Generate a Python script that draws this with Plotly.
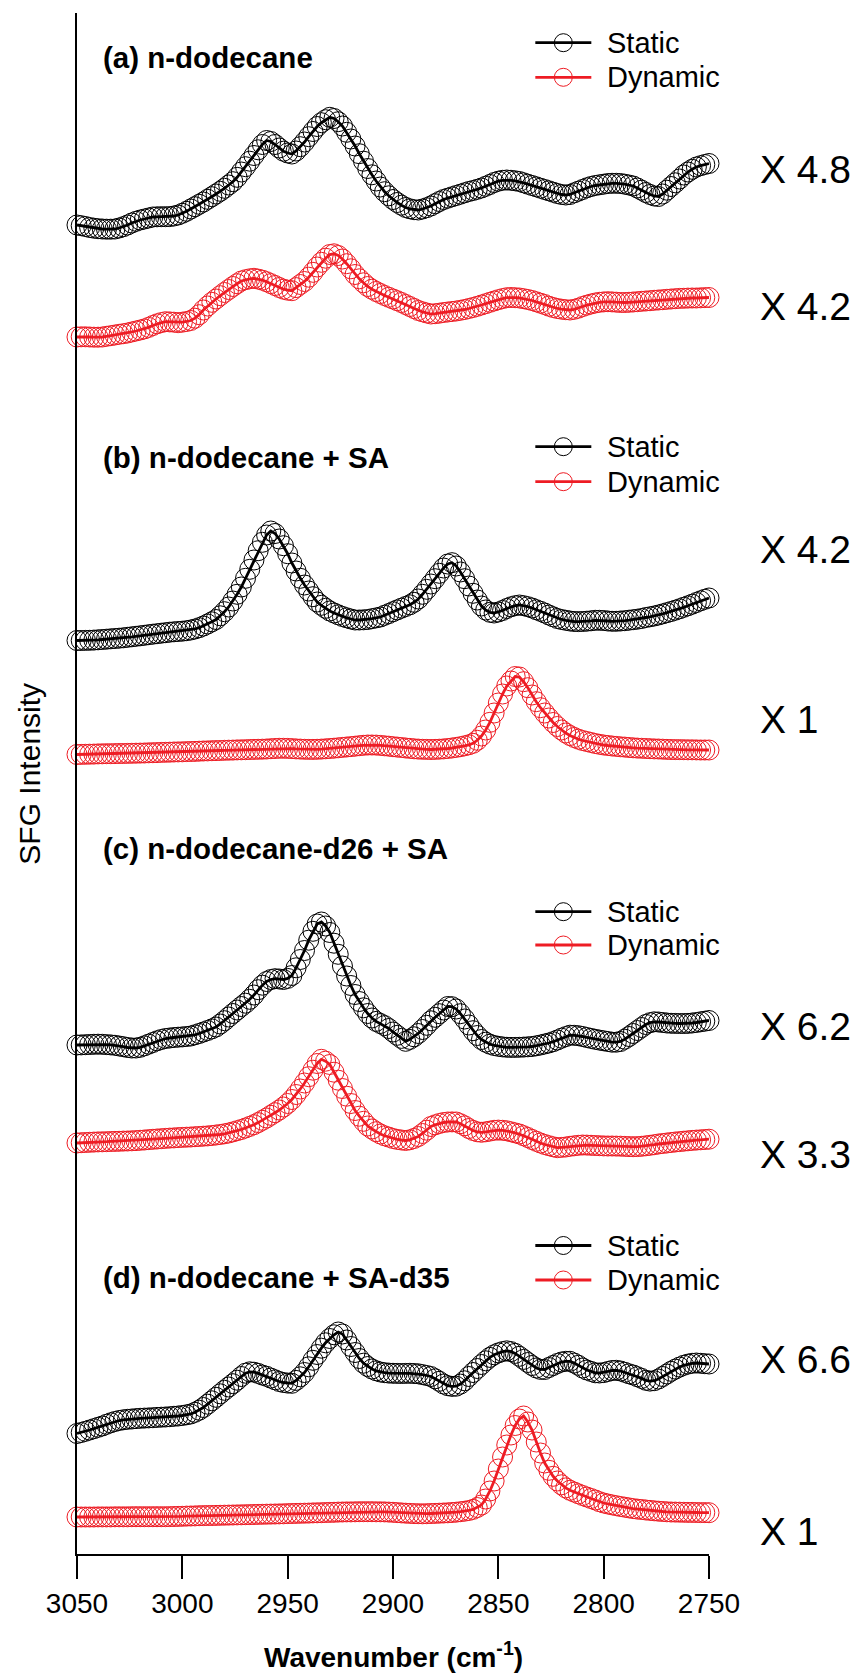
import plotly.graph_objects as go

# SFG spectra in the CH stretching region, sampled every 2 cm^-1 from 3050 down to 2750
wavenumber = list(range(3050, 2749, -2))

# (a) n-dodecane
a_static = [5, 4.3, 3.5, 2.5, 1.8, 1.3, 1, 0.8, 0.8, 1,
            2, 3.3, 5, 7, 8.7, 10, 11, 12, 13, 13.2,
            13.3, 13.3, 13.4, 14, 15, 16.7, 18.7, 21, 23.3, 25.7,
            28, 30.7, 33.3, 36, 38.7, 41.7, 45, 48.3, 52.7, 58,
            63.3, 68.8, 74.5, 80.2, 85.5, 89.5, 88.5, 85.5, 82, 78.8,
            77, 76, 79, 83.3, 88, 93.3, 98.5, 103.5, 107.3, 110.3,
            112.7, 111.5, 108.3, 104, 97.7, 91, 84, 76.3, 68.8, 61.5,
            55.2, 49, 43, 38.3, 34.2, 30.5, 27.5, 24.8, 22.5, 21.2,
            20.3, 20, 21, 22.3, 24, 26.3, 28.5, 30.5, 31.8, 33.2,
            34.5, 35.8, 37.2, 38.5, 39.5, 40.7, 42, 43.7, 45.5, 47.5,
            48.8, 49.7, 50, 49.7, 49.2, 48.5, 47.2, 45.8, 44.5, 43.2,
            41.8, 40.5, 39.2, 37.8, 36.5, 35.5, 35, 35.5, 37.2, 38.8,
            40.5, 42.2, 43.5, 44.5, 45.2, 45.8, 46.5, 46.7, 46.7, 46.5,
            45.8, 45, 44, 42, 39.8, 37.5, 35.5, 34, 33.5, 36,
            39.8, 43.5, 47.2, 51, 55, 58, 60.7, 63, 64.3, 65.5,
            66.5]
a_dynamic = [3, 3.2, 3.2, 3, 2.8, 2.8, 3, 3.7, 4.3, 5, 5.7, 6.3, 7, 8, 9,
             10, 11.1, 12.6, 14.5, 16.2, 17.4, 18.3, 18.1, 17.8, 17.3, 17.8, 18.5, 19.5, 21.8, 25.3,
             30, 34, 37.7, 41, 44.3, 47.5, 50.5, 53.5, 56.3, 59, 60.3, 61.2, 61.7, 60.9, 59.8,
             58.3, 56.4, 54.5, 52.5, 50.8, 49.8, 49.3, 52.4, 55.5, 58.5, 62.8, 67.7, 73, 77.7, 81.8,
             85.5, 86.2, 84.5, 81, 76.3, 71.2, 65.5, 61.2, 57.2, 53.5, 50.8, 48.5, 46.5, 44.5, 42.7,
             41, 39.3, 37.5, 35.5, 33.5, 31.5, 29.5, 28.2, 27, 26, 26.3, 26.8, 27.5, 28, 28.5,
             29, 29.7, 30.5, 31.5, 32.5, 33.7, 35, 36.3, 37.7, 39, 40.3, 41.4, 42.3, 42.5, 42.3,
             42, 41.3, 40.5, 39.5, 38.2, 36.8, 35.5, 33.8, 32.5, 31.5, 30.8, 30.3, 30, 30.7, 31.8,
             33.5, 34.8, 36, 37, 37.7, 38.1, 38.3, 38.1, 37.8, 37.5, 37.5, 37.7, 38, 38.3, 38.7,
             39, 39.3, 39.7, 40, 40.3, 40.7, 41, 41.3, 41.6, 41.7, 41.9, 42, 42, 42.2, 42.4,
             42.5]

# (b) n-dodecane + SA
b_static = [4.5, 4.5, 4.6, 4.7, 4.9, 5.2, 5.5, 5.8, 6.2, 6.5, 6.8, 7.2, 7.7, 8.2, 8.7,
            9.2, 9.7, 10.3, 10.8, 11.3, 11.8, 12.3, 12.8, 13.2, 13.5, 13.8, 14.3, 15, 16, 17.3,
            19, 21, 23.2, 25.5, 29.2, 33.3, 38, 44, 50.7, 58, 66.7, 75.7, 85, 94.3, 102.7,
            110, 114, 111.5, 106, 99.3, 91.3, 82, 74, 66.7, 60, 54, 48.3, 43, 39.7, 36.7,
            34, 32, 30.2, 28.5, 27.2, 26, 25, 25, 25.2, 25.5, 26.3, 27.1, 28, 29.7, 31.4,
            33.3, 35.1, 36.8, 38.5, 40.2, 42.7, 46, 50.7, 55.7, 61, 66.3, 71.7, 77, 81, 82.3,
            79, 73, 66.3, 59, 51.7, 45, 39, 35, 32.7, 32, 33, 34.5, 36.5, 38.2, 39.3,
            40, 39.3, 38.3, 37, 35.3, 33.7, 32, 30, 28.2, 26.5, 25.5, 24.7, 24, 23.5, 23.4,
            23.5, 23.8, 24.2, 24.7, 24.7, 24.5, 24, 23.7, 23.7, 24, 24.3, 24.8, 25.3, 25.8, 26.5,
            27.5, 28.2, 29, 30, 31.1, 32.3, 33.5, 34.8, 36.2, 37.7, 39.2, 40.8, 42.5, 44.2, 45.7,
            47]
b_dynamic = [0.5, 0.6, 0.7, 0.8, 0.9, 1.1, 1.2, 1.3, 1.3, 1.4, 1.5, 1.5, 1.6, 1.7, 1.8,
             1.9, 2, 2.2, 2.3, 2.4, 2.6, 2.7, 2.8, 3, 3.1, 3.2, 3.4, 3.5, 3.6, 3.8,
             4, 4.1, 4.3, 4.4, 4.5, 4.7, 4.8, 4.9, 5.1, 5.2, 5.3, 5.5, 5.6, 5.7, 5.8,
             6, 6.3, 6.5, 6.7, 6.7, 6.6, 6.4, 6.1, 5.9, 5.7, 5.6, 5.6, 5.7, 5.9, 6.2,
             6.5, 6.8, 7.2, 7.6, 8, 8.4, 8.8, 9.3, 9.7, 10, 10, 9.9, 9.6, 9.2, 8.8,
             8.3, 7.9, 7.5, 7, 6.6, 6.2, 5.9, 5.7, 5.6, 5.5, 5.6, 5.8, 6.1, 6.5, 7,
             7.6, 8.3, 9.2, 10.2, 11.7, 14.7, 19, 25, 32.7, 42, 52, 61, 69, 74, 78.5,
             78, 73.3, 67.3, 60, 53.3, 47.3, 42, 37, 32.5, 28.5, 25, 22, 19.5, 17.5, 15.8,
             14.5, 13.5, 12.5, 11.5, 10.7, 10, 9.5, 9, 8.6, 8.2, 7.9, 7.5, 7.2, 6.9, 6.7,
             6.5, 6.3, 6.1, 6, 5.8, 5.6, 5.5, 5.4, 5.4, 5.3, 5.2, 5.2, 5.1, 5, 5,
             5]

# (c) n-dodecane-d26 + SA
c_static = [5, 5.1, 5.3, 5.5, 5.7, 5.8, 5.7, 5.4, 5.1, 4.7, 4, 3.3, 2.5, 2, 2,
            2.7, 4.2, 5.8, 7.5, 9.2, 10.5, 11.5, 12, 12.5, 12.8, 13.1, 13.5, 14, 15.2, 16.5,
            18, 19.5, 21.1, 23, 26, 29.3, 33, 36.5, 40, 43.5, 46.8, 50.7, 55, 60.3, 64.8,
            68.5, 70.5, 71.3, 71, 70.5, 71.6, 74.5, 82.2, 90.5, 99.5, 109.8, 118.7, 126, 128, 124,
            117.5, 106.8, 95.7, 84, 74, 64.5, 55.5, 48.5, 42.2, 36.5, 32, 28.6, 26.5, 24.4, 21.5,
            18, 14.7, 11.6, 8.7, 10.6, 13.2, 16.5, 20.5, 24.7, 29.2, 32.7, 36.3, 40, 43.5, 43.3,
            41, 36.3, 31, 25, 19.3, 14.5, 10.5, 7.8, 5.8, 4.5, 3.7, 3.1, 2.7, 2.6, 2.6,
            2.7, 2.9, 3.2, 3.5, 4.2, 5, 6, 7, 8.3, 10, 11.8, 13.4, 14.8, 14.7, 14.3,
            13.5, 12.5, 11.6, 10.7, 9.9, 9.2, 8.5, 7.8, 7.8, 8.5, 10.8, 13.5, 16.5, 19.5, 22.5,
            25.5, 27.3, 28.2, 28, 27.5, 27, 26.7, 26.6, 26.5, 26.5, 26.6, 27, 27.5, 28.2, 28.8,
            29.5]
c_dynamic = [7, 7.3, 7.5, 7.7, 7.9, 8.1, 8.2, 8.3, 8.5, 8.6, 8.7, 8.9, 9, 9.2, 9.4,
             9.7, 10, 10.4, 10.7, 11, 11.3, 11.6, 11.9, 12.1, 12.4, 12.6, 12.8, 13, 13.3, 13.5,
             13.8, 14.1, 14.5, 15, 15.5, 16.2, 17, 18.1, 19.3, 20.5, 22, 23.6, 25.3, 27.4, 29.7,
             32, 34.7, 37.3, 40, 43, 46.5, 50.5, 55.5, 61, 67, 73.3, 79.8, 86.5, 90.7, 88.8,
             85.5, 77.8, 69.8, 61.5, 53.8, 46.5, 39.5, 33.8, 28.7, 24, 21, 18.3, 16, 14.2, 12.9,
             11.5, 10.6, 10, 9.5, 10.2, 11.5, 13.5, 16.5, 19.8, 23.5, 25.2, 26.5, 27.5, 28, 28.1,
             28, 26.3, 24.2, 21.5, 19.5, 18.2, 17.7, 18.2, 18.9, 19.7, 19.9, 19.7, 19.2, 18.2, 17.1,
             16, 14.3, 12.5, 10.5, 8.7, 7, 5.5, 4.3, 3.2, 2.3, 2.6, 3, 3.7, 4.2, 4.7,
             5, 4.9, 4.7, 4.5, 4.3, 4.1, 4, 4, 3.9, 3.8, 3.6, 3.4, 3.3, 3.4, 3.7,
             4.2, 4.7, 5.3, 6, 6.5, 7, 7.5, 8, 8.4, 8.8, 9.2, 9.6, 9.9, 10.2, 10.5,
             10.8]

# (d) n-dodecane + SA-d35
d_static = [1.5, 2.5, 3.7, 5, 6.3, 7.7, 9, 10.7, 12.2, 13.5, 14.5, 15.2, 15.7, 16, 16.4,
            16.7, 16.9, 17.1, 17.3, 17.6, 17.8, 18, 18.3, 18.7, 19, 19.5, 20.2, 21, 22.7, 24.8,
            27.5, 30.8, 34.2, 37.7, 41.2, 44.7, 48, 51.3, 54.8, 58.5, 61.8, 63.2, 62.8, 61.6, 59.9,
            58.7, 56.9, 55.2, 53.5, 52.5, 51.9, 51.7, 54.6, 58.2, 62.5, 68.2, 74.7, 80.5, 86.8, 92.2,
            96.5, 100.2, 103, 101, 95, 88.5, 82.5, 76.5, 71.8, 68.5, 66, 64.2, 63, 62.3, 61.9,
            61.7, 61.6, 61.5, 61.6, 61.7, 61.5, 61.2, 60.4, 59.5, 58.5, 56.2, 53.7, 51, 49.3, 48.6,
            48.8, 50.9, 54.2, 58.5, 62.5, 66.5, 70.5, 74.2, 77.6, 80.2, 82.1, 83.4, 84.2, 83.4, 81.6,
            78.7, 75.6, 72.5, 69.5, 67, 65.6, 65.5, 67.5, 69.5, 71.5, 73, 73.7, 73.7, 71.9, 69.7,
            67, 65, 63.6, 62.2, 62, 62.4, 63.5, 64.5, 64.7, 64, 62.7, 61.2, 60, 58.3, 56.6,
            54.7, 53.9, 54.3, 56, 58.5, 61, 63.7, 65.9, 67.9, 69.7, 70.9, 71.7, 72, 71.7, 71.3,
            71]
d_dynamic = [1, 1, 1, 1, 1, 1.1, 1.1, 1.1, 1.1, 1.2, 1.2, 1.2, 1.2, 1.3, 1.3,
             1.3, 1.3, 1.3, 1.3, 1.3, 1.3, 1.3, 1.4, 1.5, 1.6, 1.7, 1.9, 2, 2.1, 2.3,
             2.4, 2.5, 2.5, 2.6, 2.7, 2.8, 2.9, 3, 3.1, 3.2, 3.3, 3.4, 3.5, 3.6, 3.7,
             3.8, 3.9, 4, 4.1, 4.2, 4.4, 4.5, 4.6, 4.7, 4.8, 4.9, 5.1, 5.2, 5.3, 5.5,
             5.6, 5.7, 5.9, 6, 6.1, 6.1, 6.2, 6.3, 6.3, 6.3, 6.3, 6.2, 6.2, 6.1, 5.9,
             5.7, 5.4, 5.1, 4.8, 4.6, 4.4, 4.3, 4.2, 4.3, 4.5, 4.6, 4.8, 5, 5.2, 5.5,
             5.8, 6.3, 6.8, 7.5, 8.6, 10.5, 13, 19, 27, 37, 49, 61, 73, 83, 92.5,
             99, 102, 96, 88, 76, 65, 55, 47.7, 41.7, 37, 33.2, 30.1, 27.7, 25.9, 24.2,
             22.5, 21, 19.5, 18, 16.3, 15, 14, 13.1, 12.3, 11.5, 10.8, 10.1, 9.4, 8.9, 8.5,
             8, 7.6, 7.2, 6.8, 6.5, 6.2, 6, 5.9, 5.8, 5.7, 5.6, 5.6, 5.5, 5.4, 5.4,
             5.3]

panel_titles = ["(a) n-dodecane", "(b) n-dodecane + SA",
                "(c) n-dodecane-d26 + SA", "(d) n-dodecane + SA-d35"]
scale_factors = ["X 4.8", "X 4.2", "X 4.2", "X 1", "X 6.2", "X 3.3", "X 6.6", "X 1"]
series_names = ["Static", "Dynamic"]
x_ticks = [3050, 3000, 2950, 2900, 2850, 2800, 2750]

spectra = [a_static, a_dynamic, b_static, b_dynamic,
           c_static, c_dynamic, d_static, d_dynamic]
assert all(len(s) == len(wavenumber) for s in spectra)

# vertical stacking of the spectra (a.u.)
stack_offsets = [1324, 1214, 909, 799, 504, 404, 119, 36]

FONT = "Liberation Sans, Arial, sans-serif"
BLACK = "#000000"
RED = "#ee1c24"
colors = [BLACK, RED] * 4

fig = go.Figure()
for sig, off, col in zip(spectra, stack_offsets, colors):
    fig.add_trace(go.Scatter(
        x=wavenumber, y=[off + v for v in sig],
        mode="lines+markers",
        line=dict(color=col, width=2.8),
        marker=dict(symbol="circle-open", size=20, color=col, line=dict(width=1)),
        cliponaxis=False, showlegend=False, hoverinfo="skip",
    ))

annotations = []
shapes = []

# panel titles
title_y = [1497, 1097, 706, 277]
for txt, y in zip(panel_titles, title_y):
    annotations.append(dict(text=f"<b>{txt}</b>", xref="paper", yref="y",
                            x=0.038, y=y, xanchor="left", yanchor="middle",
                            showarrow=False, font=dict(family=FONT, size=29.5, color="black")))

# intensity scale factors at the right of each spectrum
scale_y = [1385, 1248, 1004.5, 835, 528, 400, 195, 23]
for txt, y in zip(scale_factors, scale_y):
    annotations.append(dict(text=txt, xref="paper", yref="y",
                            x=1.077, y=y, xanchor="left", yanchor="middle",
                            showarrow=False, font=dict(family=FONT, size=39, color="black")))

# per-panel legends (Static / Dynamic)
legend_y = [(1511.3, 1476.7), (1107.3, 1072.3), (642.3, 609), (308.5, 274)]
glyph_x = 0.7695
for ys in legend_y:
    for name, col, y in zip(series_names, [BLACK, RED], ys):
        shapes.append(dict(type="line", xref="paper", yref="y",
                           xsizemode="pixel", ysizemode="pixel",
                           xanchor=glyph_x, yanchor=y,
                           x0=-28, x1=28, y0=0, y1=0,
                           line=dict(color=col, width=2.8)))
        shapes.append(dict(type="circle", xref="paper", yref="y",
                           xsizemode="pixel", ysizemode="pixel",
                           xanchor=glyph_x, yanchor=y,
                           x0=-9, x1=9, y0=-9, y1=9,
                           fillcolor="rgba(0,0,0,0)",
                           line=dict(color=col, width=1)))
        annotations.append(dict(text=name, xref="paper", yref="y",
                                x=0.836, y=y, xanchor="left", yanchor="middle",
                                showarrow=False,
                                font=dict(family=FONT, size=29, color="black")))

# axis titles
annotations.append(dict(text="<b>Wavenumber (cm<sup>-1</sup>)</b>", xref="paper", yref="paper",
                        x=0.5, y=-0.0655, xanchor="center", yanchor="middle",
                        showarrow=False, font=dict(family=FONT, size=28, color="black")))
annotations.append(dict(text="SFG Intensity", xref="paper", yref="y",
                        x=-0.0765, y=780, xanchor="center", yanchor="middle",
                        textangle=-90, showarrow=False,
                        font=dict(family=FONT, size=30, color="black")))

fig.update_layout(
    width=857, height=1674,
    margin=dict(l=77, r=148, t=13, b=120),
    paper_bgcolor="white", plot_bgcolor="white",
    font=dict(family=FONT, color="black"),
    annotations=annotations, shapes=shapes,
    xaxis=dict(range=[3050, 2750], tickmode="array", tickvals=x_ticks,
               ticktext=[str(t) for t in x_ticks],
               showline=True, linecolor="black", linewidth=2,
               ticks="outside", ticklen=23, tickwidth=2, tickcolor="black",
               tickfont=dict(family=FONT, size=28, color="black"),
               showgrid=False, zeroline=False),
    yaxis=dict(range=[0, 1541], showline=True, linecolor="black", linewidth=2,
               ticks="", showticklabels=False, showgrid=False, zeroline=False),
)

fig.write_html("out.html")
